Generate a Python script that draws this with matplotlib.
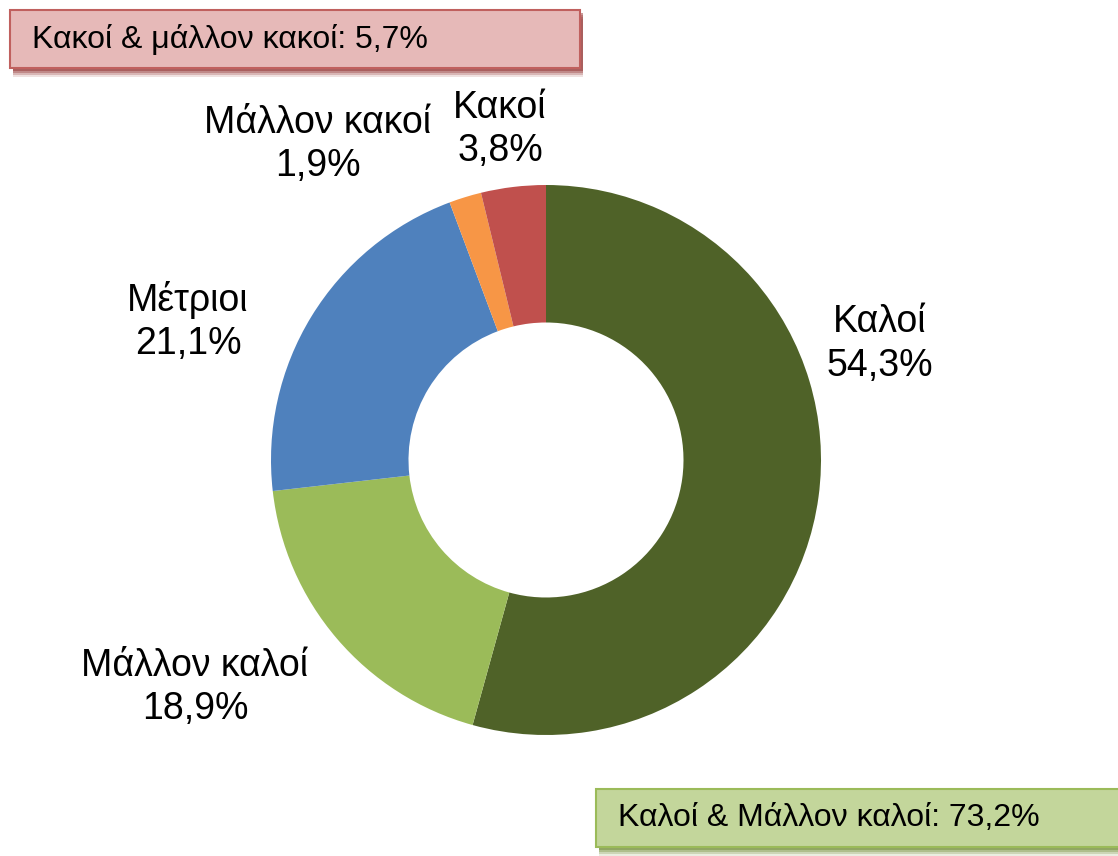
import matplotlib.pyplot as plt
from matplotlib.patches import Rectangle

plt.rcParams['font.family'] = ['Liberation Sans', 'DejaVu Sans']

# ποσοστά ανά κατηγορία
categories = ['Καλοί', 'Μάλλον καλοί', 'Μέτριοι', 'Μάλλον κακοί', 'Κακοί']
values = [54.3, 18.9, 21.1, 1.9, 3.8]
colors = ['#4F6228', '#9BBB59', '#4F81BD', '#F79646', '#C0504D']

# θέσεις ετικετών (σε pixel, y από πάνω)
label_pos = [(880, 344), (195, 687), (188, 321), (318, 144), (500, 129)]

W, H = 1118, 856
fig = plt.figure(figsize=(W / 100, H / 100), dpi=100)
ax = fig.add_axes([0, 0, 1, 1])

cx, cy, r = 546, H - 460, 275
ax.pie(values, colors=colors, startangle=90, counterclock=False,
       center=(cx, cy), radius=r, frame=True,
       wedgeprops=dict(width=r * 0.5, linewidth=0))
ax.set_xlim(0, W)
ax.set_ylim(0, H)
ax.set_aspect('equal')
ax.axis('off')

for name, v, (x, y) in zip(categories, values, label_pos):
    ax.text(x, H - y, f'{name}\n{v:.1f}%'.replace('.', ','), ha='center', va='center',
            fontsize=27, linespacing=1.25)


def box(x0, y0, x1, y1, fill, edge, shadow, text):
    # σκιά κάτω από το πλαίσιο
    for i, a in enumerate([0.15, 0.25, 0.35, 0.5]):
        off = 9 - i * 2
        ax.add_patch(Rectangle((x0 + 3, H - y1 - off), x1 - x0, y1 - y0,
                               facecolor=shadow, edgecolor='none', alpha=a, zorder=3))
    ax.add_patch(Rectangle((x0, H - y1), x1 - x0, y1 - y0, facecolor=fill,
                           edgecolor=edge, linewidth=1.5, zorder=4))
    ax.text(x0 + 22, H - (y0 + y1) / 2, text, ha='left', va='center',
            fontsize=23, zorder=5)


bad = values[3] + values[4]
good = values[0] + values[1]
box(10, 10, 580, 68, '#E6B9B8', '#C0605E', '#953735',
    f'Κακοί & μάλλον κακοί: {bad:.1f}%'.replace('.', ','))
box(596, 789, 1130, 847, '#C3D69B', '#9BBB59', '#76923C',
    f'Καλοί & Μάλλον καλοί: {good:.1f}%'.replace('.', ','))

fig.savefig('out.png', dpi=100)
